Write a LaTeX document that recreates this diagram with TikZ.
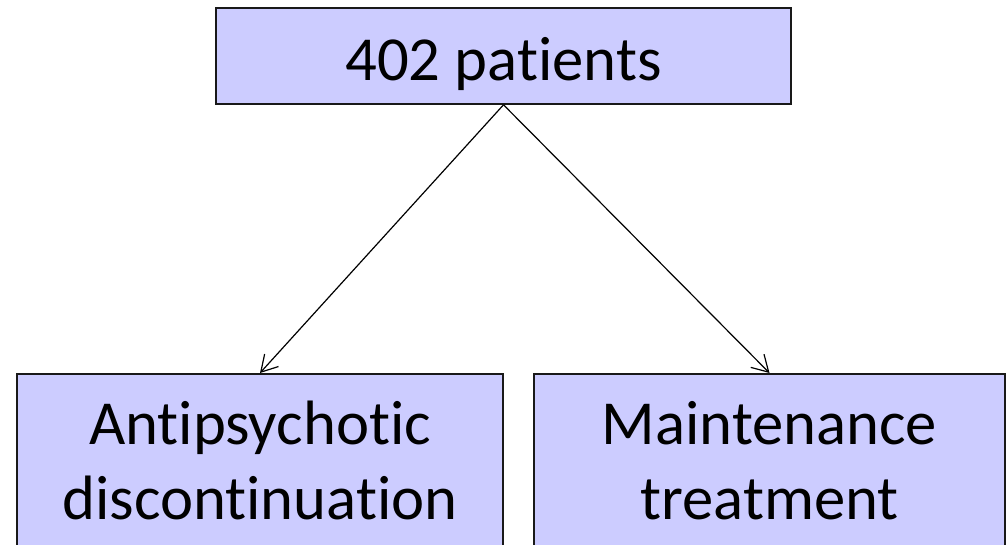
\documentclass[tikz,border=0pt]{standalone}
\usepackage{fontspec}
\setmainfont[Ligatures={NoCommon,NoRare,NoDiscretionary}]{Carlito}
\usetikzlibrary{arrows.meta}
\begin{document}
\begin{tikzpicture}[x=0.75pt,y=-0.75pt,
  box/.style={draw=black!90, line width=1.2pt, fill=blue!20, rectangle,
    inner sep=0pt, font=\fontsize{47}{56}\selectfont, align=center},
  link/.style={line width=0.9pt, -{Straight Barb[length=12pt,width=14pt,line width=0.9pt]}}]
  \useasboundingbox (0,0) rectangle (1006,544);
  \clip (0,0) rectangle (1006,544);
  % top box: fixed text height/depth put the baseline low in the box
  \node[box, minimum width=431.25pt, minimum height=72pt,
        text height=38pt, text depth=2pt] (all) at (503.5,56) {402 patients};
  \node[box, anchor=north, minimum width=364.5pt, minimum height=130pt] (disc) at (260,373)
    {Antipsychotic\\discontinuation};
  \node[box, anchor=north, minimum width=353.25pt, minimum height=130pt] (maint) at (769.5,373)
    {Maintenance\\treatment};
  \draw[link] (all.south) -- (disc.north);
  \draw[link] (all.south) -- (maint.north);
\end{tikzpicture}
\end{document}
